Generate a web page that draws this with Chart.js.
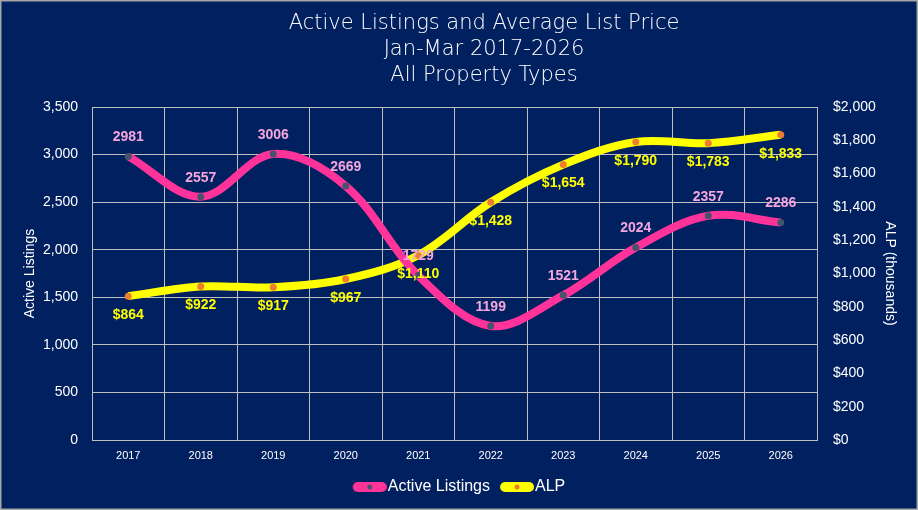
<!DOCTYPE html>
<html>
<head>
<meta charset="utf-8">
<script src="https://cdn.jsdelivr.net/npm/chart.js@4/dist/chart.umd.min.js"></script>
<style>
    html, body { margin: 0; padding: 0; background: #002060; }
    #wrap { width: 918px; height: 510px; position: relative; }
</style>
</head>
<body>
<div id="wrap"><canvas id="mainChart"></canvas></div>
<script>
const years = ["2017", "2018", "2019", "2020", "2021", "2022", "2023", "2024", "2025", "2026"];
const activeListings = [2981, 2557, 3006, 2669, 1729, 1199, 1521, 2024, 2357, 2286];
const alp = [864, 922, 917, 967, 1110, 1428, 1654, 1790, 1783, 1833];
const titleLines = ["Active Listings and Average List Price", "Jan-Mar 2017-2026", "All Property Types"];

const BG = "#002060";
const PINK = "#ff3399";
const YELLOW = "#ffff00";
const GRID = "#bfbfbf";

// legend marker: thick line segment with the point dot in the middle,
// drawn at the right of the image so the text follows it closely
function legendPill(color, dot) {
    const c = document.createElement("canvas");
    c.width = 41;
    c.height = 10;
    const g = c.getContext("2d");
    g.fillStyle = color;
    g.beginPath();
    g.moveTo(12, 0);
    g.lineTo(36, 0);
    g.arc(36, 5, 5, -Math.PI / 2, Math.PI / 2);
    g.lineTo(12, 10);
    g.arc(12, 5, 5, Math.PI / 2, Math.PI * 1.5);
    g.fill();
    g.fillStyle = dot;
    g.beginPath();
    g.arc(24, 5, 2.5, 0, Math.PI * 2);
    g.fill();
    return c;
}

const backgroundPlugin = {
    id: "background",
    beforeDraw(chart) {
        const { ctx, width, height } = chart;
        ctx.save();
        ctx.fillStyle = BG;
        ctx.fillRect(0, 0, width, height);
        ctx.strokeStyle = "#a6a6a6";
        ctx.lineWidth = 1.5;
        ctx.strokeRect(0.75, 0.75, width - 1.5, height - 1.5);
        ctx.restore();
    },
};

// the title sits a bit right of the canvas centre, like the original
const chartTitle = {
    id: "chartTitle",
    afterDraw(chart) {
        const { ctx } = chart;
        ctx.save();
        ctx.fillStyle = "#ffffff";
        ctx.font = "200 21px 'DejaVu Sans', sans-serif";
        ctx.textAlign = "center";
        ctx.textBaseline = "middle";
        titleLines.forEach((line, i) => ctx.fillText(line, 484, 24 + i * 26));
        ctx.restore();
    },
};

const valueLabels = {
    id: "valueLabels",
    afterDatasetsDraw(chart) {
        const { ctx } = chart;
        ctx.save();
        ctx.font = "bold 14px 'Liberation Sans', Arial, sans-serif";
        ctx.textAlign = "center";
        ctx.textBaseline = "middle";
        chart.data.datasets.forEach((ds, i) => {
            const meta = chart.getDatasetMeta(i);
            meta.data.forEach((pt, j) => {
                ctx.fillStyle = ds.labelColor;
                ctx.fillText(ds.formatLabel(ds.data[j]), pt.x, pt.y + ds.labelOffset);
            });
        });
        ctx.restore();
    },
};

const tickFont = { family: "'Liberation Sans', Arial, sans-serif", size: 14 };

new Chart(document.getElementById("mainChart"), {
    type: "line",
    data: {
        labels: years,
        datasets: [
            {
                label: "Active Listings",
                data: activeListings,
                yAxisID: "y",
                borderColor: PINK,
                borderWidth: 8,
                tension: 0.35,
                pointStyle: "circle",
                pointRadius: 3.5,
                pointBackgroundColor: "#44546a",
                pointBorderWidth: 0,
                legendMarker: legendPill(PINK, "#44546a"),
                labelColor: "#f4a6dc",
                labelOffset: -19,
                formatLabel: (v) => String(v),
            },
            {
                label: "ALP",
                data: alp,
                yAxisID: "y1",
                borderColor: YELLOW,
                borderWidth: 8,
                tension: 0.35,
                pointStyle: "circle",
                pointRadius: 3.5,
                pointBackgroundColor: "#ed7d31",
                pointBorderWidth: 0,
                legendMarker: legendPill(YELLOW, "#ed7d31"),
                labelColor: YELLOW,
                labelOffset: 19,
                formatLabel: (v) => "$" + v.toLocaleString("en-US"),
            },
        ],
    },
    options: {
        responsive: true,
        maintainAspectRatio: false,
        animation: false,
        layout: { padding: { top: 107, bottom: 5 } },
        plugins: {
            title: { display: false },
            legend: {
                position: "bottom",
                labels: {
                    usePointStyle: true,
                    pointStyleWidth: 27,
                    color: "#ffffff",
                    font: { family: "'Liberation Sans', Arial, sans-serif", size: 16 },
                    padding: 10,
                    generateLabels: (chart) =>
                        chart.data.datasets.map((ds, i) => ({
                            text: ds.label,
                            pointStyle: ds.legendMarker,
                            fontColor: "#ffffff",
                            strokeStyle: "transparent",
                            lineWidth: 0,
                            hidden: false,
                            datasetIndex: i,
                        })),
                },
            },
            tooltip: { enabled: false },
        },
        scales: {
            x: {
                offset: true,
                grid: { offset: true, color: GRID, lineWidth: 1, drawTicks: false },
                border: { color: GRID },
                ticks: {
                    color: "#ffffff",
                    font: { family: "'Liberation Sans', Arial, sans-serif", size: 11 },
                    padding: 9,
                    maxRotation: 0,
                },
                afterFit: (scale) => { scale.height = 29; },
            },
            y: {
                position: "left",
                min: 0,
                max: 3500,
                grid: { color: GRID, lineWidth: 1, drawTicks: false },
                border: { color: GRID },
                ticks: {
                    stepSize: 500,
                    color: "#ffffff",
                    font: tickFont,
                    padding: 14,
                    callback: (v) => v.toLocaleString("en-US"),
                },
                title: {
                    display: true,
                    text: "Active Listings",
                    color: "#ffffff",
                    font: tickFont,
                    padding: { top: 22 },
                },
                afterFit: (scale) => { scale.width = 92; },
            },
            y1: {
                position: "right",
                min: 0,
                max: 2000,
                grid: { display: false, drawTicks: false },
                border: { display: false },
                ticks: {
                    stepSize: 200,
                    color: "#ffffff",
                    font: tickFont,
                    padding: 16,
                    callback: (v) => "$" + v.toLocaleString("en-US"),
                },
                title: {
                    display: true,
                    text: "ALP (thousands)",
                    color: "#ffffff",
                    font: tickFont,
                    padding: { top: 20 },
                },
                afterFit: (scale) => { scale.width = 101; },
            },
        },
    },
    plugins: [backgroundPlugin, valueLabels, chartTitle],
});
</script>
</body>
</html>
